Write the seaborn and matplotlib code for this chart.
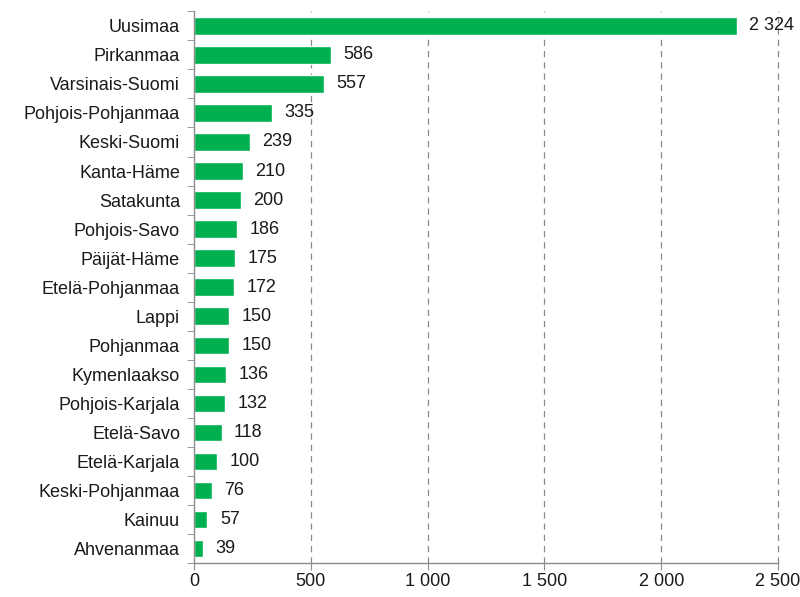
import pandas as pd
import seaborn as sns
import matplotlib.pyplot as plt
from matplotlib.ticker import FuncFormatter, FixedLocator

# Data
maakunnat = ['Uusimaa', 'Pirkanmaa', 'Varsinais-Suomi', 'Pohjois-Pohjanmaa',
             'Keski-Suomi', 'Kanta-Häme', 'Satakunta', 'Pohjois-Savo',
             'Päijät-Häme', 'Etelä-Pohjanmaa', 'Lappi', 'Pohjanmaa',
             'Kymenlaakso', 'Pohjois-Karjala', 'Etelä-Savo', 'Etelä-Karjala',
             'Keski-Pohjanmaa', 'Kainuu', 'Ahvenanmaa']
maarat = [2324, 586, 557, 335, 239, 210, 200, 186, 175, 172, 150, 150,
          136, 132, 118, 100, 76, 57, 39]
x_ticks = [0, 500, 1000, 1500, 2000, 2500]

df = pd.DataFrame({'maakunta': maakunnat, 'maara': maarat})

sns.set_style('white')
plt.rcParams['font.family'] = ['Liberation Sans', 'DejaVu Sans']

fig = plt.figure(figsize=(8, 5.97), dpi=100)
ax = fig.add_axes([0.2425, 0.057, 0.73, 0.924])

sns.barplot(data=df, y='maakunta', x='maara', orient='h', color='#00B050',
            width=0.6, saturation=1, ax=ax)

def fmt(v):
    return f'{int(v):,}'.replace(',', ' ')

ax.bar_label(ax.containers[0], labels=[fmt(v) for v in maarat],
             padding=9, fontsize=13, color='#1a1a1a')

ax.set_xlim(0, 2500)
ax.set_ylim(len(maakunnat) - 0.5, -0.5)
ax.xaxis.set_major_locator(FixedLocator(x_ticks))
ax.xaxis.set_major_formatter(FuncFormatter(lambda v, p: fmt(v)))
ax.set_xlabel('')
ax.set_ylabel('')

# dashed gridlines
for t in x_ticks[1:]:
    ax.axvline(t, color='#8a8a8a', linestyle=(0, (5, 4)), linewidth=0.9,
               zorder=0, clip_on=False)

# spines and ticks, Excel style
for s in ['top', 'right']:
    ax.spines[s].set_visible(False)
for s in ['left', 'bottom']:
    ax.spines[s].set_color('#8c8c8c')
    ax.spines[s].set_linewidth(1)

ax.set_yticks([i + 0.5 for i in range(-1, len(maakunnat))], minor=True)
ax.tick_params(axis='y', which='major', length=0, labelsize=13, pad=10, labelcolor='#1a1a1a')
ax.tick_params(axis='y', which='minor', length=5, color='#8c8c8c', left=True)
ax.tick_params(axis='x', which='major', length=5, color='#8c8c8c', bottom=True,
               labelsize=13, labelcolor='#1a1a1a', pad=2)

plt.savefig('out.png', dpi=100)
